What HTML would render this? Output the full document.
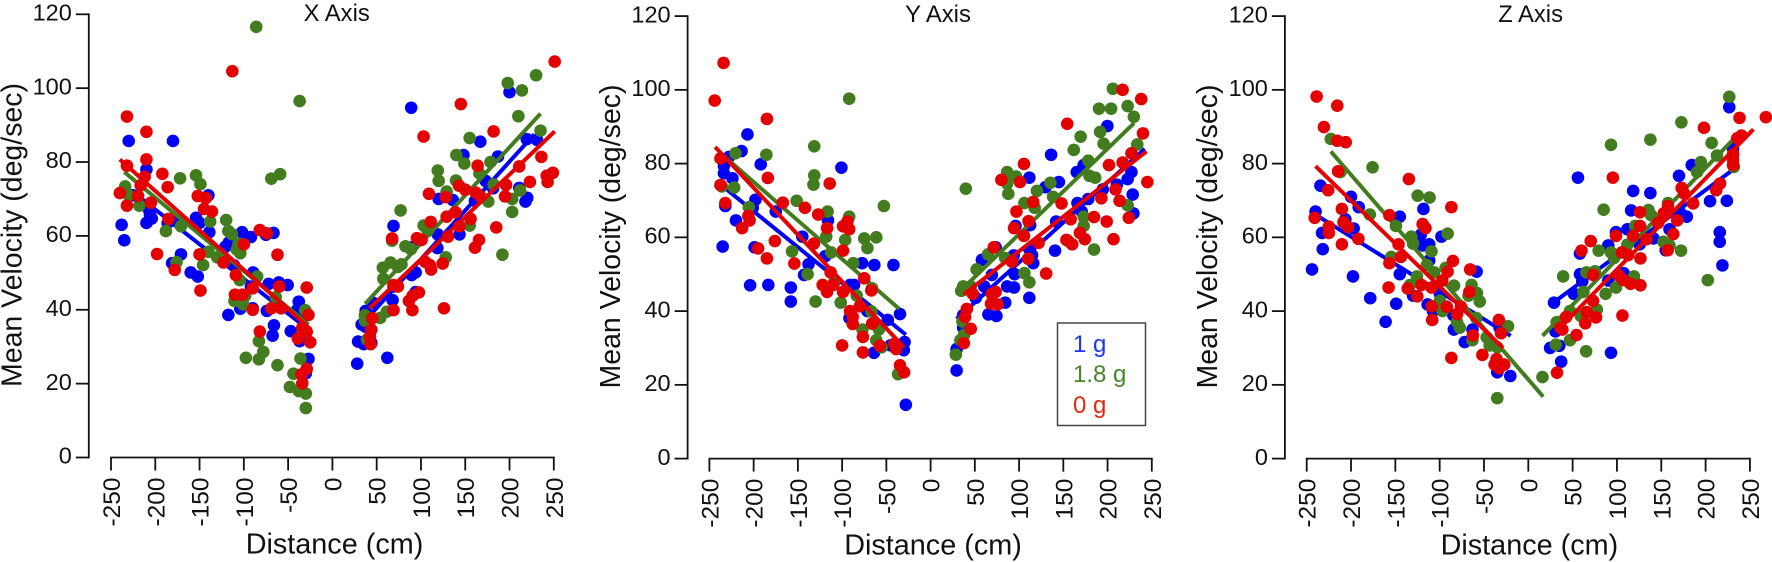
<!DOCTYPE html>
<html lang="en">
<head>
<meta charset="utf-8">
<title>Mean Velocity vs Distance</title>
<style>
html,body{margin:0;padding:0;background:#fff;width:1772px;height:562px;overflow:hidden}
svg{display:block}
text{font-family:"Liberation Sans",Arial,sans-serif;fill:#111}
</style>
</head>
<body>
<svg id="chart" xmlns="http://www.w3.org/2000/svg" width="1772" height="562" viewBox="0 0 1772 562">
  <rect width="1772" height="562" fill="#fff"/>
  <g id="plots"></g>
  <g>
    <rect x="1057.5" y="323" width="88" height="102.5" fill="#fff" stroke="#444" stroke-width="1.5"/>
    <text x="1073" y="352" font-size="24" style="fill:#1c36f0">1 g</text>
    <text x="1073" y="382" font-size="24" style="fill:#47862a">1.8 g</text>
    <text x="1073" y="413" font-size="24" style="fill:#e02a10">0 g</text>
  </g>
</svg>
<script>
const yTicks = [0, 20, 40, 60, 80, 100, 120];
const xTicks = [-250, -200, -150, -100, -50, 0, 50, 100, 150, 200, 250];

const xAxisBlue = [[-180,85.7],[-230,85.7],[-210,78],[-140,71],[-225,71],[-238,63],[-235,58.8],[-206,65.7],[-210,63.5],[-204,64.7],[-207,67],[-186,63.5],[-177,64],[-154,64.9],[-150,63.5],[-139,61],[-171,55],[-181,52.6],[-160,50.1],[-152,49],[-117,58.2],[-121,57],[-102,61],[-92,59.7],[-75,60.3],[-66.5,60.8],[-111,52],[-89.5,50.1],[-72,47],[-60.5,47.4],[-50.5,46.7],[-92,46.3],[-90,40.4],[-104,40.3],[-117.5,38.6],[-74,39.7],[-66,35.8],[-67.5,33],[-47,34.2],[-38,42.2],[-40,39.9],[-34,38.5],[-37,31.5],[-27,26.7],[-30,22.8],
[200,98.9],[89,94.7],[167,85.5],[219.5,86.2],[231,86],[148,81.9],[187,81.5],[173,74.9],[181.5,72.9],[196,73.8],[211,73],[220,70.3],[218,69.3],[120,70],[136,69.7],[161,69.5],[69,62.7],[119,60.4],[118.5,56.7],[143.5,60.4],[89.5,56.9],[94,50.1],[89.5,49.4],[94,44.8],[69,46.3],[68,42.6],[37.6,39.7],[46,41.9],[33,36],[37.6,35.4],[29,31.4],[35.4,30.7],[44,31],[62,27],[28,25.4]];
const xAxisGreen = [[-86,116.6],[-37,96.5],[-59,76.7],[-69,75.5],[-234,73.4],[-230,71],[-218,68.2],[-188,61.3],[-172,75.6],[-154,76.4],[-149,74],[-171,62.6],[-138,63.9],[-120,64.3],[-117.5,61.3],[-113.6,60.5],[-106,57.9],[-108,56.3],[-104,55.3],[-140,55.7],[-130,54.2],[-146,52.1],[-176,52.9],[-85,49],[-104.6,48],[-64,43.4],[-98.5,43.8],[-110.6,42.4],[-100.7,41.4],[-30.7,39.9],[-83,31.5],[-78,28.6],[-83,26.6],[-97.7,27],[-62,25],[-36,26.8],[-44,22.7],[-48,19.1],[-38,18],[-30,17.3],[-30,13.4],
[198,101.4],[230,103.5],[214,99.4],[210,92.4],[235,88.5],[155,86.5],[140,81.9],[149,79.6],[178.5,80],[119,77.7],[120,74.9],[166,76.9],[139.6,75],[129,72],[182,73.9],[212,72.3],[203,70],[203,66.5],[176,69.3],[192,54.9],[77,66.9],[103,62.8],[107.6,61.3],[155,62.8],[67.4,58.7],[82.5,57.2],[128,54.2],[65.7,52.8],[57,51.4],[78,52.3],[74,51.6],[57.5,48.4],[61.4,39.5],[54,37.8],[36.7,38.5],[36.7,37],[39,31.9],[88.6,56.4]];
const xAxisRed = [[-232,92.3],[-210,88.2],[-210,80.7],[-232,79],[-240,71.6],[-232,68.2],[-212,76],[-216.5,73.7],[-219.5,70.8],[-205,69],[-192,76.8],[-186,73.2],[-185,64.6],[-198,55.1],[-178,50.8],[-152,70.8],[-143,70.2],[-145,67.3],[-136,66.6],[-150,55],[-149,45.2],[-123,52.8],[-113,104.6],[-82,61.6],[-74,60.7],[-100,57.7],[-62,54.9],[-109,49.4],[-110,44.1],[-101.5,44.1],[-90,45.8],[-60,46.3],[-90,40],[-69,40.4],[-58,40.4],[-82,34.1],[-29,46],[-27,38.6],[-34,35.1],[-29,34],[-39,32.2],[-25,31.2],[-29,24],[-35,22.5],[-34,20.1],
[251,107.2],[145,95.7],[103,86.9],[182,88.3],[236,81.4],[164,79],[211,78.8],[249,77.1],[242,76.3],[243,74.6],[223,74.6],[196,73.8],[195,70.7],[143,73.6],[150,72.5],[109,71.4],[128,70.5],[162,71.7],[167,70.7],[139,66.4],[129,65.2],[111,63.8],[156,64.6],[143.5,62.6],[185,62.3],[130.5,59.8],[165.5,58.9],[161,56.8],[95.5,59.4],[100.7,58.9],[67.4,59.3],[104.6,53],[110,52.1],[111.5,50.9],[124.5,52.5],[126,40.4],[74,46.3],[69,46.7],[97.7,44.7],[90.7,43.8],[86.4,42.4],[90.3,39.9],[69,39.9],[45,37.7],[44,34.6],[42.4,32.7],[43.2,30.7]];
const xAxisBlueFits = [[[-228,72.4],[-29,35]],[[33,36],[228,87.5]]];
const xAxisGreenFits = [[[-235,77.3],[-27,36]],[[37,41.6],[235,93.1]]];
const xAxisRedFits = [[[-240,80.7],[-24,34.6]],[[42,40.4],[251,88.3]]];

const yAxisBlue = [[-207,87.9],[-213.7,83.4],[-192,79.8],[-100.8,78.9],[-228,81.8],[-233.6,79.4],[-233.6,77.4],[-224,76],[-198,70.2],[-201,68],[-232,68.5],[-220,64.6],[-235,57.5],[-175,67],[-199,57.3],[-204,47],[-183.4,47.1],[-158,46.4],[-158,42.6],[-145,60.2],[-116,64.6],[-119,54.9],[-138,52.7],[-143,49.8],[-77.4,53],[-63.6,52.5],[-42,52.5],[-86.5,47.1],[-91,47.1],[-71.4,40],[-91.7,38.1],[-48.4,37.6],[-34.6,39.2],[-29.4,31.6],[-30.3,29.4],[-64,28.7],[-28,14.6],[-45.4,30.7],
[199.8,90.2],[136.2,82.4],[111.6,76.2],[173,79.6],[165.2,77.7],[145,75],[129.8,73.6],[227,77.7],[210.6,74.3],[222.7,75.8],[194.6,73],[228.4,71.6],[229.2,66.5],[178.2,70.4],[166,69.3],[170.8,67],[141.9,64.3],[112.5,63.3],[96,63.1],[140.6,56.4],[111.6,56.8],[114.6,55.2],[116,53],[58,53.9],[73.5,57.3],[93.9,55.1],[69.2,49.8],[95,50],[60.6,46.7],[86.5,46.7],[94.3,46.4],[111.6,43.6],[51,43.6],[84.3,42.3],[65.3,39.1],[74.4,38.7],[36.8,38.9],[36.8,35.5],[29.4,29.7],[29.4,23.9]];
const yAxisGreen = [[-220.6,82.8],[-185.6,82.4],[-222,73.5],[-236,73.8],[-205.4,68.2],[-131.5,84.7],[-131.5,76.8],[-132.4,74.3],[-151.4,69.9],[-116.4,67],[-92,97.6],[-92,65.6],[-52.8,68.5],[-75,59.7],[-61.4,60],[-71.4,57.1],[-96.5,59.3],[-118,60.2],[-112.5,55.9],[-156.6,56.2],[-139,50],[-87.4,53],[-130,42.6],[-109.4,47.6],[-101.6,42.3],[-83.5,44.2],[-66.2,46.2],[-67,39.9],[-77,35],[-58.4,35],[-61.4,32.1],[-55.4,30.2],[-36.8,22.9],
[206,100.3],[222.7,95.6],[190.3,94.9],[204,94.9],[229.7,92.7],[191.6,88.6],[169.6,87.3],[195.5,85.4],[233.6,85.2],[161.8,83.7],[178.2,80.8],[179.5,76.7],[186,76.2],[86.5,77.7],[96.5,76.5],[86.5,74.6],[87.8,71.8],[135.4,74.8],[138.4,71],[120.2,72.6],[106,69.3],[117.6,68],[39.8,73.2],[222.7,68.7],[173,65.6],[173,63.1],[184.7,56.7],[65,55.4],[84.3,54.4],[52,51.3],[106,50.3],[111.6,47.8],[155.7,59],[34.6,45.5],[36.8,46.7],[45.4,46.7],[36,37.2],[38,33.6],[33.7,32.1],[28.5,28.2]];
const yAxisRed = [[-234,107.3],[-244,97.1],[-185,92.1],[-237.5,81.4],[-237.5,74.2],[-232,69.3],[-184,76.1],[-114,74.6],[-167,69.4],[-142,68],[-127,66.2],[-206,65.8],[-204.6,64.6],[-213,62.5],[-117,62.5],[-94,64.3],[-99,63],[-92,62.2],[-132,58.3],[-176,59],[-195,57],[-185,54.3],[-154,52.9],[-99,56.4],[-113,50.5],[-75,48.9],[-122,47.1],[-110,47.1],[-117,45.2],[-99,45.2],[-67,45.6],[-91,40],[-80,41.3],[-88,38.4],[-88,36.5],[-66,36.6],[-76.5,33],[-76.5,28.8],[-100,30.7],[-57.5,30.6],[-41,31.1],[-39,29.7],[-34.6,25.3],[-30,23.4],
[217,100],[238,97.5],[154.4,90.8],[240,88.2],[105.5,79.9],[227,82.8],[201.6,79.6],[217,80.3],[245,75],[80,75.6],[101,75],[209,73],[213.6,69.9],[193,70.6],[116,69.6],[148,69.2],[97,67],[110.7,64.4],[158.3,64.9],[184.7,65.5],[199,64.3],[224,65.3],[94.3,62.5],[105.5,60.4],[168.7,61.2],[174.3,59.5],[153.5,59.3],[160,58.1],[206.7,59.5],[122,58.5],[71.4,57.3],[110.3,54.2],[92,53.4],[130.6,50.2],[47.6,44.7],[69,44.7],[73.5,45.2],[68.3,42],[75.7,41.8],[41,40.6],[39,38.4],[45.4,35.2],[37.6,31.3]];
const yAxisBlueFits = [[[-235.7,74],[-28,33.6]],[[29.4,37.9],[242,84]]];
const yAxisGreenFits = [[[-235.7,82.5],[-35.5,40.6]],[[32.4,45.2],[230,91]]];
const yAxisRedFits = [[[-243.5,84.5],[-30,30.2]],[[37.6,44.5],[244,83.3]]];

const zAxisBlue = [[-234.5,74],[-240,67],[-200,71],[-191.3,68.2],[-206.4,64.9],[-232.7,61.2],[-231.9,56.8],[-244,51.3],[-197.8,49.4],[-197,62.4],[-178.3,43.5],[-149,42],[-161,37.1],[-145,65.6],[-145,50],[-118.3,67.7],[-121.3,60.7],[-119,57.8],[-111.8,58.1],[-111.8,53.7],[-98,60.2],[-130,44.2],[-113.6,41.8],[-107.5,40],[-99.7,44.7],[-58.3,50.7],[-84.6,38.9],[-84,35],[-71.7,31.6],[-63,35],[-32.4,35.5],[-35,23.4],[-20.3,22.4],
[56,76.2],[118.3,72.6],[137.7,72],[226.7,95.3],[170,76.7],[184.4,79.6],[116,67.3],[224,69.9],[205,69.8],[216,61.4],[216,58.8],[219,52.4],[231,84],[178.8,65.6],[172,66.5],[98.9,61.4],[111.8,62.2],[90.2,57.8],[159.3,62.2],[141.2,59.7],[155,56.5],[125.6,58.1],[58.3,55.6],[58.3,50],[60.9,48.1],[107.5,50.3],[90.2,48.3],[51.4,44.7],[29,42.3],[30.7,34.5],[35,30.6],[24.6,30],[37.1,26.3],[93.3,28.7]];
const zAxisGreen = [[-222.8,86.7],[-212,77.7],[-175.7,79],[-178.8,66.2],[-149.4,63.1],[-154.6,54.7],[-124.8,71.3],[-111.4,70.8],[-132,60.2],[-130,58.3],[-91,61],[-109.2,56.2],[-114.4,52.5],[-106.2,50.5],[-93.3,51.7],[-125.6,49.4],[-133.4,47.1],[-83.8,46.9],[-99.7,42.8],[-96.7,40],[-67.4,44.2],[-64,47.1],[-57.9,44.9],[-54.8,42.6],[-58.7,38.1],[-80.3,37],[-77.3,35.5],[-63,32.1],[-47,32.9],[-43.6,30.7],[-35,30.2],[-22.9,35.9],[-35,16.4],[16,22.1],
[226.7,98.1],[172.7,91.2],[137.7,86.5],[93.3,85.1],[206.8,85.6],[194.7,80.4],[212.9,82.2],[190.4,77.7],[231.9,79.1],[85,67.5],[135.6,67.4],[138.6,66],[157.6,69.3],[120.5,63.1],[111.8,58],[152.4,58.8],[159.3,57.8],[172.3,56.4],[79.4,56.4],[93.3,55.9],[96.7,54.4],[39.3,49.4],[65.6,50.5],[75.1,50.8],[119.2,49.4],[62.2,45.2],[87.2,44.7],[98.9,46.4],[202.5,48.4],[47,40],[59.2,38.7],[77.3,40.4],[32,37],[31,30.9],[47,32.1],[65.2,29.1]];
const zAxisRed = [[-238.8,98.2],[-215.5,95.7],[-230.6,89.9],[-215.5,86.2],[-206,85.8],[-214.6,77.9],[-225.8,72.8],[-241,65.3],[-210.3,67.7],[-225,62.9],[-225,61.2],[-208.5,64.1],[-203.4,62.8],[-210.3,58.1],[-191.7,59.6],[-134.7,75.8],[-156.7,66],[-146.4,58.1],[-143.8,54.7],[-156.7,53],[-157.6,46.4],[-136,46.1],[-125.2,44],[-120.5,47.1],[-119.2,63.6],[-116,62.5],[-86.8,68.2],[-85,53.6],[-91,50.7],[-97,48.3],[-109,46.4],[-109,41.3],[-92,41.2],[-108.4,37.6],[-76,41.2],[-80.3,39.2],[-65.6,51.3],[-66.5,45.2],[-62.6,33.4],[-86.8,27.3],[-51.8,28.1],[-33.2,37.6],[-30.7,34],[-35.8,27],[-38,25.5],[-32.8,24.5],[-27.2,25.5],
[268,92.6],[238.3,92.4],[198.2,89.7],[240.5,87.6],[235.8,86.9],[231,82.5],[231,81],[231,79.6],[95.4,76.2],[173,73.4],[175.7,71.9],[216.3,74.6],[212,72.8],[186,69.2],[126,66.8],[157.6,68.5],[152.8,66.5],[168,64.6],[146.4,63.9],[126,63.1],[163.6,60.9],[133.4,59.5],[98.9,60.4],[118.3,60.4],[157.2,56.5],[105.4,55.9],[112.7,55.2],[126.5,54.3],[70.4,59],[60,56.4],[73,49.8],[102.3,49.6],[107.5,48.4],[115.3,47.4],[126.5,47],[73,42.8],[66,39.7],[76.4,38.3],[64.3,36.7],[106.2,38.8],[42.7,38.4],[36.3,35.5],[38.4,35],[54.4,33.5],[32.4,23.3]];
const zAxisBlueFits = [[[-235.7,65.5],[-19.9,33.3]],[[25.5,41.8],[231.9,78.5]]];
const zAxisGreenFits = [[[-222.8,83.3],[16.8,16.8]],[[16,33.3],[232.7,86.9]]];
const zAxisRedFits = [[[-240,79.3],[-28.5,30]],[[34,35],[254,89.3]]];

const seriesStyles = [
  {key: 'blue', color: '#0000f5'},
  {key: 'green', color: '#427c1e'},
  {key: 'red', color: '#e40000'}
];

const panels = [
  {key: 'x-axis', title: 'X Axis', axisX: 88.8, xLeft: 111, xRight: 553.8, yBottom: 457.5, yTop: 14.3,
   titleX: 336.7, titleY: 21, yTitleX: 21.7, yTitleY: 235, xTitleX: 334.5, xTitleY: 553.5,
   blue: xAxisBlue, green: xAxisGreen, red: xAxisRed,
   blueFits: xAxisBlueFits, greenFits: xAxisGreenFits, redFits: xAxisRedFits},
  {key: 'y-axis', title: 'Y Axis', axisX: 687.6, xLeft: 709.4, xRight: 1151.8, yBottom: 458.6, yTop: 16.1,
   titleX: 938, titleY: 22, yTitleX: 620, yTitleY: 236.5, xTitleX: 933, xTitleY: 554.5,
   blue: yAxisBlue, green: yAxisGreen, red: yAxisRed,
   blueFits: yAxisBlueFits, greenFits: yAxisGreenFits, redFits: yAxisRedFits},
  {key: 'z-axis', title: 'Z Axis', axisX: 1284.9, xLeft: 1306.7, xRight: 1749.9, yBottom: 458.6, yTop: 16.1,
   titleX: 1530.6, titleY: 22, yTitleX: 1217, yTitleY: 236.5, xTitleX: 1529.4, xTitleY: 554.5,
   blue: zAxisBlue, green: zAxisGreen, red: zAxisRed,
   blueFits: zAxisBlueFits, greenFits: zAxisGreenFits, redFits: zAxisRedFits}
];

const SVG_NS = 'http://www.w3.org/2000/svg';
const plots = document.getElementById('plots');

function svgEl(tag, attrs, parent) {
  const el = document.createElementNS(SVG_NS, tag);
  for (const k in attrs) el.setAttribute(k, attrs[k]);
  parent.appendChild(el);
  return el;
}

panels.forEach(function (p) {
  const xMin = xTicks[0], xMax = xTicks[xTicks.length - 1];
  const yMin = yTicks[0], yMax = yTicks[yTicks.length - 1];
  const sx = function (v) { return p.xLeft + (v - xMin) / (xMax - xMin) * (p.xRight - p.xLeft); };
  const sy = function (v) { return p.yBottom - (v - yMin) / (yMax - yMin) * (p.yBottom - p.yTop); };

  const g = svgEl('g', {}, plots);
  
  

  // axes
  const yLine = svgEl('line', {x1: p.axisX, x2: p.axisX, y1: sy(yMax) - 0.9, y2: sy(yMin) + 0.9, stroke: '#111', 'stroke-width': 1.8}, g);
  
  
  const xLine = svgEl('line', {x1: sx(xMin) - 0.9, x2: sx(xMax) + 0.9, y1: p.yBottom, y2: p.yBottom, stroke: '#111', 'stroke-width': 1.8}, g);
  
  

  yTicks.forEach(function (t) {
    const tick = svgEl('line', {x1: p.axisX - 13, x2: p.axisX, y1: sy(t), y2: sy(t), stroke: '#111', 'stroke-width': 1.8}, g);
    
    
    const label = svgEl('text', {x: p.axisX - 17, y: sy(t) + 6.2, 'text-anchor': 'end', 'font-size': 23.5}, g);
    
    
    label.textContent = t;
  });

  xTicks.forEach(function (t) {
    const tick = svgEl('line', {x1: sx(t), x2: sx(t), y1: p.yBottom, y2: p.yBottom + 13, stroke: '#111', 'stroke-width': 1.8}, g);
    
    
    const bx = sx(t) + 9, by = p.yBottom + 20;
    const label = svgEl('text', {x: bx, y: by, 'text-anchor': 'end', 'font-size': 24.5, transform: 'rotate(-90 ' + bx + ' ' + by + ')'}, g);
    
    
    label.textContent = t;
  });

  // titles
  const title = svgEl('text', {x: p.titleX, y: p.titleY, 'text-anchor': 'middle', 'font-size': 23.8}, g);
  
  
  title.textContent = p.title;

  const yTitle = svgEl('text', {x: p.yTitleX, y: p.yTitleY, 'text-anchor': 'middle', 'font-size': 29, textLength: 304, lengthAdjust: 'spacingAndGlyphs', transform: 'rotate(-90 ' + p.yTitleX + ' ' + p.yTitleY + ')'}, g);
  
  
  yTitle.textContent = 'Mean Velocity (deg/sec)';

  const xTitle = svgEl('text', {x: p.xTitleX, y: p.xTitleY, 'text-anchor': 'middle', 'font-size': 28.8}, g);
  
  
  xTitle.textContent = 'Distance (cm)';

  // series
  seriesStyles.forEach(function (s) {
    const sg = svgEl('g', {fill: s.color, stroke: s.color}, g);
    
    
    p[s.key].forEach(function (pt) {
      const dot = svgEl('circle', {cx: sx(pt[0]), cy: sy(pt[1]), r: 6.3, stroke: 'none'}, sg);
      
      
    });
    p[s.key + 'Fits'].forEach(function (fit) {
      const line = svgEl('line', {x1: sx(fit[0][0]), y1: sy(fit[0][1]), x2: sx(fit[1][0]), y2: sy(fit[1][1]), 'stroke-width': 4}, sg);
      
      
    });
  });
});
</script>
</body>
</html>
